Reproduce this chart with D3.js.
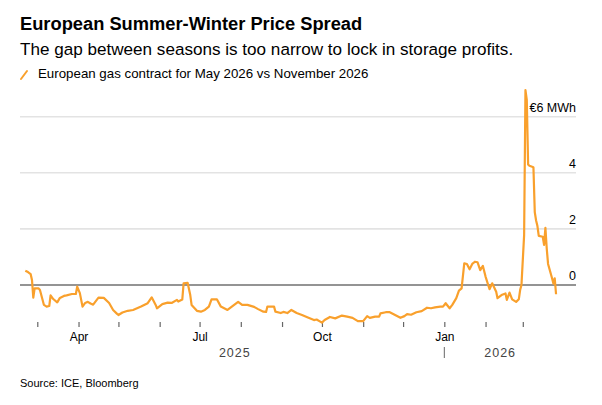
<!DOCTYPE html>
<html>
<head>
<meta charset="utf-8">
<script src="https://cdn.jsdelivr.net/npm/d3@7"></script>
<style>
  body { margin: 0; background: #fff; }
  svg { display: block; font-family: "Liberation Sans", Arial, sans-serif; }
</style>
</head>
<body>
<svg id="chart" width="602" height="405"></svg>
<script>
// Spread values, EUR/MWh (May 2026 minus Nov 2026)
var dates = [
  "2025-02-20","2025-02-22","2025-02-24","2025-02-25","2025-02-26","2025-02-27",
  "2025-03-02","2025-03-03","2025-03-06","2025-03-08","2025-03-10","2025-03-11",
  "2025-03-13","2025-03-16","2025-03-18","2025-03-21","2025-03-23","2025-03-27",
  "2025-03-30","2025-03-31","2025-04-02","2025-04-04","2025-04-06","2025-04-08",
  "2025-04-10","2025-04-12","2025-04-16","2025-04-20","2025-04-24","2025-04-27",
  "2025-04-30","2025-05-01","2025-05-04","2025-05-08","2025-05-12","2025-05-18",
  "2025-05-23","2025-05-26","2025-05-29","2025-05-30","2025-06-03","2025-06-07",
  "2025-06-10","2025-06-14","2025-06-15","2025-06-18","2025-06-19","2025-06-22",
  "2025-06-24","2025-06-25","2025-06-29","2025-07-02","2025-07-05","2025-07-08",
  "2025-07-10","2025-07-14","2025-07-17","2025-07-22","2025-07-27","2025-07-30",
  "2025-08-02","2025-08-06","2025-08-11","2025-08-14","2025-08-18","2025-08-20",
  "2025-08-21","2025-08-26","2025-08-27","2025-08-31","2025-09-02","2025-09-05",
  "2025-09-08","2025-09-12","2025-09-16","2025-09-20","2025-09-25","2025-09-27",
  "2025-10-01","2025-10-03","2025-10-07","2025-10-11","2025-10-16","2025-10-20",
  "2025-10-24","2025-10-28","2025-11-01","2025-11-04","2025-11-06","2025-11-10",
  "2025-11-13","2025-11-14","2025-11-18","2025-11-21","2025-11-25","2025-11-29",
  "2025-12-02","2025-12-04","2025-12-07","2025-12-11","2025-12-15","2025-12-19",
  "2025-12-22","2025-12-25","2025-12-29","2025-12-31","2026-01-02","2026-01-05",
  "2026-01-07","2026-01-10","2026-01-12","2026-01-14","2026-01-16","2026-01-18",
  "2026-01-20","2026-01-22","2026-01-24","2026-01-26","2026-01-28","2026-01-30",
  "2026-02-01","2026-02-04","2026-02-06","2026-02-09","2026-02-10","2026-02-13",
  "2026-02-16","2026-02-17","2026-02-19","2026-02-21","2026-02-24","2026-02-26",
  "2026-02-27","2026-02-28","2026-03-02","2026-03-03","2026-03-04","2026-03-05",
  "2026-03-06","2026-03-09","2026-03-10","2026-03-11","2026-03-12","2026-03-13",
  "2026-03-16","2026-03-17","2026-03-18","2026-03-19","2026-03-20","2026-03-23",
  "2026-03-24","2026-03-25","2026-03-26"
];
var spread = [
  0.51, 0.46, 0.39, 0.18, -0.45, -0.12,
  -0.12, -0.18, -0.71, -0.77, -0.75, -0.37,
  -0.50, -0.62, -0.46, -0.39, -0.37, -0.32,
  -0.32, -0.06, -0.29, -0.77, -0.64, -0.60,
  -0.66, -0.70, -0.45, -0.46, -0.64, -0.89,
  -1.03, -1.07, -0.98, -0.92, -0.89, -0.77,
  -0.65, -0.44, -0.71, -0.83, -0.68, -0.63,
  -0.64, -0.53, -0.59, -0.52, 0.06, 0.08,
  -0.36, -0.71, -0.92, -0.95, -0.89, -0.77,
  -0.51, -0.51, -0.77, -0.89, -0.71, -0.60,
  -0.71, -0.71, -0.78, -0.86, -0.95, -0.96,
  -0.77, -0.77, -0.95, -1.00, -0.96, -1.00,
  -0.89, -1.00, -1.07, -1.15, -1.25, -1.23,
  -1.34, -1.25, -1.14, -1.19, -1.09, -1.13,
  -1.17, -1.29, -1.29, -1.11, -1.17, -1.13,
  -1.13, -1.01, -0.97, -0.97, -1.07, -1.17,
  -1.11, -1.04, -1.06, -0.97, -0.93, -0.81,
  -0.83, -0.80, -0.77, -0.77, -0.65, -0.83,
  -0.71, -0.47, -0.20, -0.12, 0.77, 0.75,
  0.56, 0.75, 0.83, 0.81, 0.53, 0.68,
  0.30, -0.15, 0.06, -0.24, -0.47, -0.36,
  -0.30, -0.53, -0.27, -0.51, -0.60, -0.51,
  -0.18, 0.00, 1.78, 6.95, 6.60, 4.30,
  4.25, 4.20, 2.60, 2.30, 2.10, 1.75,
  1.72, 1.43, 2.04, 1.30, 0.75, 0.24,
  0.05, 0.24, -0.33
];

var yTicks = [0, 2, 4, 6];
var yTickLabels = ["0", "2", "4", "€6 MWh"];
var monthLabels = { 3: "Apr", 6: "Jul", 9: "Oct", 0: "Jan" };
var years = ["2025", "2026"];

var parse = d3.timeParse("%Y-%m-%d");
var data = dates.map(function(d, i) { return { date: parse(d), value: spread[i] }; });

var svg = d3.select("#chart");
var orange = "#f9a02c";

/*=================================
	HEADER
**===============================*/

svg.append("text").attr("x", 20).attr("y", 30)
  .attr("font-size", 18.3).attr("font-weight", "bold").attr("fill", "#000")
  .text("European Summer-Winter Price Spread");

svg.append("text").attr("x", 20).attr("y", 55)
  .attr("font-size", 17.1).attr("fill", "#000")
  .text("The gap between seasons is too narrow to lock in storage profits.");

svg.append("line").attr("x1", 21).attr("y1", 79).attr("x2", 27).attr("y2", 71)
  .attr("stroke", orange).attr("stroke-width", 2).attr("stroke-linecap", "round");
svg.append("text").attr("x", 38).attr("y", 78)
  .attr("font-size", 13.3).attr("fill", "#000")
  .text("European gas contract for May 2026 vs November 2026");

/*=================================
	SCALES
**===============================*/

var x = d3.scaleTime()
  .domain([parse("2025-02-16"), parse("2026-04-10")])
  .range([20, 576]);

var y = d3.scaleLinear()
  .domain([0, 6])
  .range([285, 116.7]);

/*=================================
	GRID & Y LABELS
**===============================*/

var grid = svg.append("g");
yTicks.forEach(function(t, i) {
  grid.append("line")
    .attr("x1", 20).attr("x2", 576)
    .attr("y1", y(t)).attr("y2", y(t))
    .attr("stroke", t === 0 ? "#707070" : "#e3e3e3")
    .attr("stroke-width", t === 0 ? 1.5 : 1.6);
  grid.append("text")
    .attr("x", 576).attr("y", y(t) - 5)
    .attr("text-anchor", "end")
    .attr("font-size", 12.5).attr("fill", "#000")
    .text(yTickLabels[i]);
});

/*=================================
	X AXIS
**===============================*/

var months = d3.timeMonth.range(parse("2025-03-01"), parse("2026-03-02"));
var xAxis = d3.axisBottom(x)
  .tickValues(months)
  .tickSize(5)
  .tickPadding(5)
  .tickFormat(function(d) { return monthLabels[d.getMonth()] || ""; });

var gx = svg.append("g").attr("transform", "translate(0,322)").call(xAxis);
gx.select(".domain").remove();
gx.selectAll(".tick line").attr("stroke", "#666").attr("stroke-width", 1.2);
gx.selectAll(".tick text")
  .attr("font-family", "Liberation Sans, Arial, sans-serif")
  .attr("font-size", 12).attr("fill", "#000");

// year labels, centred on the visible data of each year
var firstDate = data[0].date, lastDate = data[data.length - 1].date;
var jan = parse("2026-01-01");
var yearSpans = [[firstDate, jan], [jan, lastDate]];
years.forEach(function(yr, i) {
  svg.append("text")
    .attr("x", (x(yearSpans[i][0]) + x(yearSpans[i][1])) / 2)
    .attr("y", 357)
    .attr("text-anchor", "middle")
    .attr("font-size", 12.5).attr("letter-spacing", 1)
    .attr("fill", "#444")
    .text(yr);
});
svg.append("line")
  .attr("x1", x(jan)).attr("x2", x(jan))
  .attr("y1", 347).attr("y2", 358)
  .attr("stroke", "#666").attr("stroke-width", 1);

/*=================================
	LINE
**===============================*/

var line = d3.line()
  .x(function(d) { return x(d.date); })
  .y(function(d) { return y(d.value); });

svg.append("path").datum(data)
  .attr("fill", "none")
  .attr("stroke", orange)
  .attr("stroke-width", 2.2)
  .attr("stroke-linejoin", "round")
  .attr("d", line);

/*=================================
	SOURCE
**===============================*/

svg.append("text").attr("x", 20).attr("y", 387)
  .attr("font-size", 11).attr("fill", "#000")
  .text("Source: ICE, Bloomberg");
</script>
</body>
</html>
